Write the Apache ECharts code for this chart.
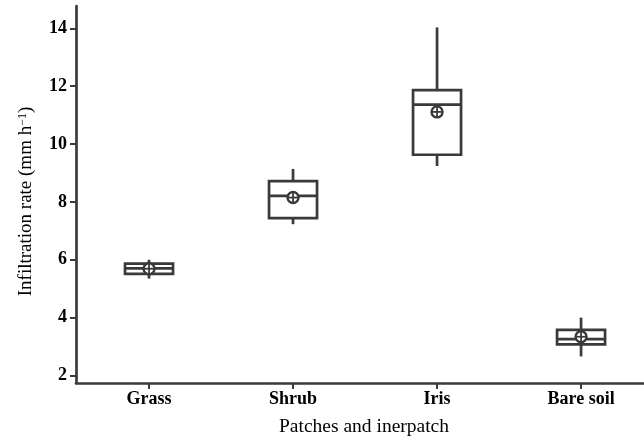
<!DOCTYPE html>
<html>
<head>
<meta charset="utf-8">
<script src="https://cdn.jsdelivr.net/npm/echarts@6/dist/echarts.min.js"></script>
<style>
html,body{margin:0;padding:0;background:#fff;}
#chart{width:644px;height:442px;}
</style>
</head>
<body>
<div id="chart"></div>
<script>
const categories = ['Grass', 'Shrub', 'Iris', 'Bare soil'];
const whiskerLow = [5.35, 7.23, 9.24, 2.66];
const q1 = [5.51, 7.44, 9.63, 3.08];
const median = [5.70, 8.21, 11.36, 3.26];
const q3 = [5.87, 8.72, 11.86, 3.58];
const whiskerHigh = [6.00, 9.14, 14.03, 4.00];
const mean = [5.69, 8.15, 11.11, 3.34];
const yTicks = [2, 4, 6, 8, 10, 12, 14];
const xPositions = categories.map((c, i) => i);

const data = categories.map((c, i) => [i, whiskerLow[i], q1[i], median[i], q3[i], whiskerHigh[i], mean[i]]);
const ink = '#3a3a3a';
const lw = 2.7;

const chart = echarts.init(document.getElementById('chart'), null, {renderer: 'canvas'});
chart.setOption({
  animation: false,
  backgroundColor: '#fff',
  grid: {left: 76, top: 6, right: 0, bottom: 58, containLabel: false},
  xAxis: {
    type: 'value',
    min: -0.507,
    max: 3.437,
    name: 'Patches and inerpatch',
    nameLocation: 'middle',
    nameGap: 34,
    nameTextStyle: {fontFamily: 'Liberation Serif', fontSize: 19.5, color: '#000', padding: [0, 0, 0, 8]},
    axisLine: {onZero: false, lineStyle: {color: ink, width: lw}},
    axisTick: {customValues: xPositions, length: 6, lineStyle: {color: ink, width: 2}},
    axisLabel: {
      customValues: xPositions,
      formatter: function (v) { return categories[Math.round(v)]; },
      fontFamily: 'Liberation Serif', fontWeight: 'bold', fontSize: 18, color: '#000', margin: 7
    },
    splitLine: {show: false}
  },
  yAxis: {
    type: 'value',
    min: 1.742,
    max: 14.77,
    name: 'Infiltration rate (mm h{sup|−1})',
    nameLocation: 'middle',
    nameGap: 40,
    nameRotate: 90,
    nameTextStyle: {
      fontFamily: 'Liberation Serif', fontSize: 19, color: '#000',
      padding: [0, 14, 0, 0],
      rich: {sup: {fontFamily: 'Liberation Serif', fontSize: 12, color: '#000', verticalAlign: 'top', lineHeight: 12, padding: [0, 0, 7, 0]}}
    },
    axisLine: {show: true, onZero: false, lineStyle: {color: ink, width: lw}},
    axisTick: {show: true, customValues: yTicks, length: 6, lineStyle: {color: ink, width: 2}},
    axisLabel: {customValues: yTicks, fontFamily: 'Liberation Serif', fontWeight: 'bold', fontSize: 18, color: '#000', margin: 9},
    splitLine: {show: false}
  },
  series: [{
    type: 'custom',
    data: data,
    encode: {x: 0, y: [1, 2, 3, 4, 5, 6]},
    renderItem: function (params, api) {
      const x = api.value(0);
      const half = api.size([1, 0])[0] / 3 / 2;
      const pLow = api.coord([x, api.value(1)]);
      const pQ1 = api.coord([x, api.value(2)]);
      const pMed = api.coord([x, api.value(3)]);
      const pQ3 = api.coord([x, api.value(4)]);
      const pHigh = api.coord([x, api.value(5)]);
      const pMean = api.coord([x, api.value(6)]);
      const cx = pMed[0];
      const st = {stroke: ink, lineWidth: lw, fill: null};
      const r = 5.5;
      return {
        type: 'group',
        children: [
          {type: 'line', shape: {x1: cx, y1: pQ3[1], x2: cx, y2: pHigh[1]}, style: st},
          {type: 'line', shape: {x1: cx, y1: pQ1[1], x2: cx, y2: pLow[1]}, style: st},
          {type: 'rect', shape: {x: cx - half, y: pQ3[1], width: half * 2, height: pQ1[1] - pQ3[1]}, style: {stroke: ink, lineWidth: lw, fill: '#fff'}},
          {type: 'line', shape: {x1: cx - half, y1: pMed[1], x2: cx + half, y2: pMed[1]}, style: st},
          {type: 'circle', shape: {cx: pMean[0], cy: pMean[1], r: r}, style: {stroke: ink, lineWidth: 2.4, fill: '#fff'}},
          {type: 'line', shape: {x1: pMean[0] - r, y1: pMean[1], x2: pMean[0] + r, y2: pMean[1]}, style: {stroke: ink, lineWidth: 1.8}},
          {type: 'line', shape: {x1: pMean[0], y1: pMean[1] - r, x2: pMean[0], y2: pMean[1] + r}, style: {stroke: ink, lineWidth: 1.8}}
        ]
      };
    }
  }]
});
</script>
</body>
</html>
